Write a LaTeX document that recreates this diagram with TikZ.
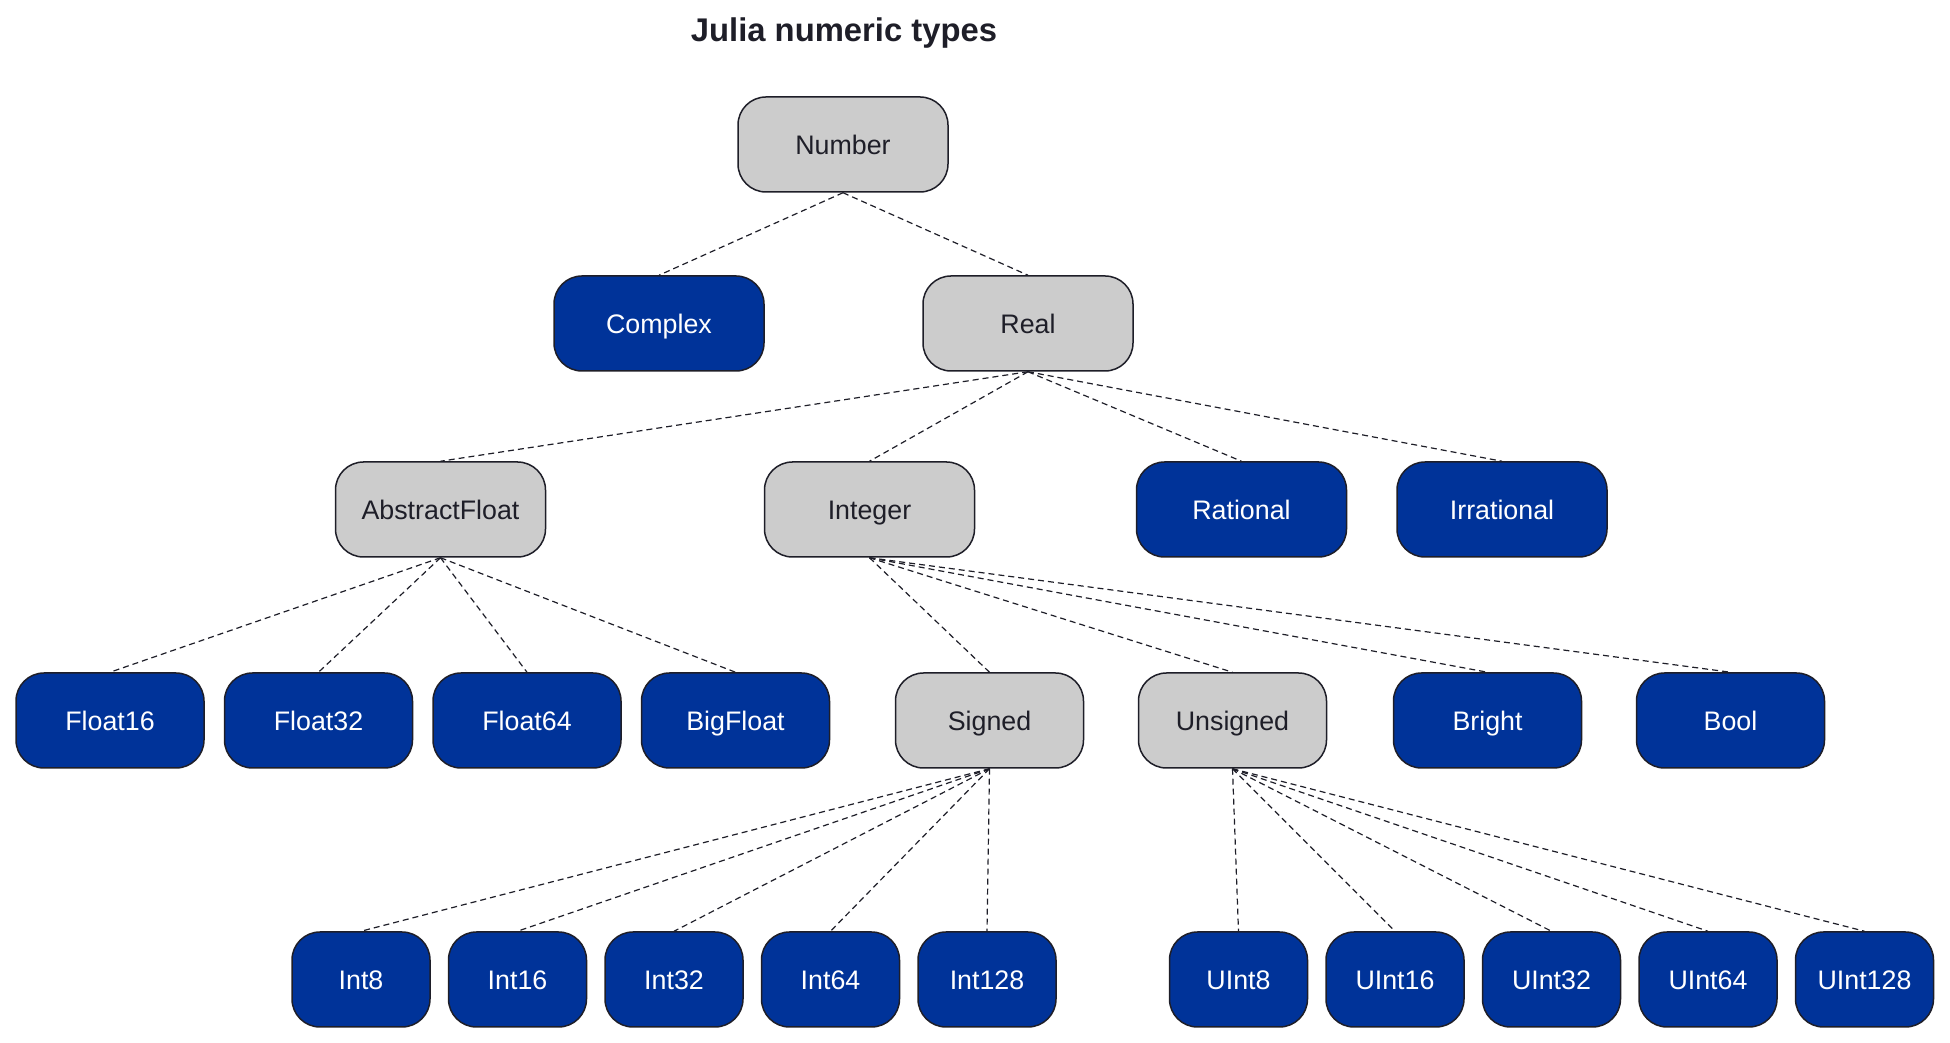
\documentclass[tikz,border=0pt]{standalone}
\usepackage{fontspec}
\setmainfont{Liberation Sans}
\usetikzlibrary{positioning}
\definecolor{typeblue}{HTML}{003399}
\definecolor{typegray}{HTML}{CCCCCC}
\definecolor{typeline}{HTML}{1E1E28}
\tikzset{
    typebox/.style={draw=typeline, line width=0.75pt, rounded corners=14pt,
        minimum width=105pt, minimum height=47.5pt, inner sep=0pt,
        text height=9.6pt, text depth=0pt, font=\fontsize{13.4}{16}\selectfont},
    abstract/.style={typebox, fill=typegray, text=typeline},
    concrete/.style={typebox, fill=typeblue, text=white},
    medium/.style={minimum width=94pt},
    narrow/.style={minimum width=69pt},
    subtype/.style={draw=typeline, line width=0.6pt, dash pattern=on 3pt off 2pt},
    heading/.style={anchor=base, text=typeline, font=\fontsize{16.4}{20}\selectfont\bfseries}
}
\begin{document}
\begin{tikzpicture}[x=1pt,y=1pt,on grid,node distance=104.25pt]
            \useasboundingbox (0,0) rectangle (975,521.5);
            \node[heading] (title) at (422,500.5) {Julia numeric types};
            \node[abstract] (number) at (421.5,449.25) {Number};
            \node[concrete] (complex) at (329.5,359.75) {Complex};
            \node[abstract, right=184.5pt of complex] (real) {Real};
            \node[abstract] (abstractfloat) at (220.25,266.75) {AbstractFloat};
            \node[abstract, right=214.5pt of abstractfloat] (integer) {Integer};
            \node[concrete, right=186pt of integer] (rational) {Rational};
            \node[concrete, right=130.25pt of rational] (irrational) {Irrational};
            \node[concrete, medium] (float16) at (55,161.25) {Float16};
            \node[concrete, medium, right=of float16] (float32) {Float32};
            \node[concrete, medium, right=of float32] (float64) {Float64};
            \node[concrete, medium, right=of float64] (bigfloat) {BigFloat};
            \node[abstract, medium, right=127pt of bigfloat] (signed) {Signed};
            \node[abstract, medium, right=121.5pt of signed] (unsigned) {Unsigned};
            \node[concrete, medium, right=127.5pt of unsigned] (bright) {Bright};
            \node[concrete, medium, right=121.5pt of bright] (bool) {Bool};
            \node[concrete, narrow] (int8) at (180.5,31.75) {Int8};
            \node[concrete, narrow, right=78.25pt of int8] (int16) {Int16};
            \node[concrete, narrow, right=78.25pt of int16] (int32) {Int32};
            \node[concrete, narrow, right=78.25pt of int32] (int64) {Int64};
            \node[concrete, narrow, right=78.25pt of int64] (int128) {Int128};
            \node[concrete, narrow, right=125.75pt of int128] (uint8) {UInt8};
            \node[concrete, narrow, right=78.25pt of uint8] (uint16) {UInt16};
            \node[concrete, narrow, right=78.25pt of uint16] (uint32) {UInt32};
            \node[concrete, narrow, right=78.25pt of uint32] (uint64) {UInt64};
            \node[concrete, narrow, right=78.25pt of uint64] (uint128) {UInt128};
            \path[subtype]
            (number.south) edge (complex.north)
            (number.south) edge (real.north)
            (real.south) edge (abstractfloat.north)
            (real.south) edge (integer.north)
            (real.south) edge (rational.north)
            (real.south) edge (irrational.north)
            (abstractfloat.south) edge (float16.north)
            (abstractfloat.south) edge (float32.north)
            (abstractfloat.south) edge (float64.north)
            (abstractfloat.south) edge (bigfloat.north)
            (integer.south) edge (signed.north)
            (integer.south) edge (unsigned.north)
            (integer.south) edge (bright.north)
            (integer.south) edge (bool.north)
            (signed.south) edge (int8.north)
            (signed.south) edge (int16.north)
            (signed.south) edge (int32.north)
            (signed.south) edge (int64.north)
            (signed.south) edge (int128.north)
            (unsigned.south) edge (uint8.north)
            (unsigned.south) edge (uint16.north)
            (unsigned.south) edge (uint32.north)
            (unsigned.south) edge (uint64.north)
            (unsigned.south) edge (uint128.north);
        \end{tikzpicture}
\end{document}
